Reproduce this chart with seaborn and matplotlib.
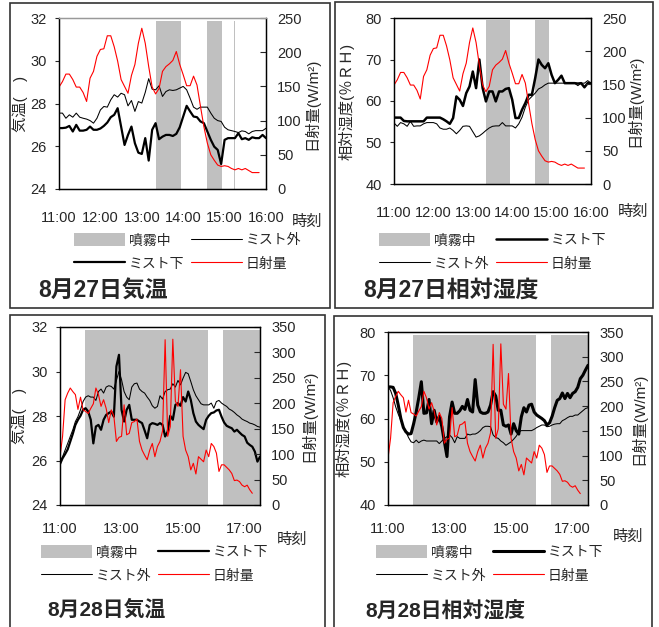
import numpy as np
import pandas as pd
import seaborn as sns
import matplotlib.pyplot as plt
from matplotlib.patches import Patch, Rectangle
from matplotlib.lines import Line2D

# readings every 5 minutes starting 11:00
# 8/27
temp27_under = [26.85, 26.85, 26.87, 26.95, 26.69, 27.0, 26.73, 26.73, 26.77, 26.92,
                26.77, 26.77, 26.83, 26.95, 27.11, 27.36, 27.47, 27.78, 26.92, 26.06,
                26.53, 26.92, 26.14, 25.70, 25.64, 26.38, 25.33, 26.77, 27.08, 26.33,
                26.45, 26.53, 26.53, 26.48, 26.58, 26.89, 27.39, 27.89, 27.63, 27.39,
                27.36, 27.16, 27.08, 26.69, 26.30, 25.98, 25.83, 25.17, 26.30, 26.38,
                26.38, 26.38, 26.61, 26.33, 26.38, 26.30, 26.42, 26.38, 26.38, 26.53,
                26.38]
temp27_out = [27.55, 27.55, 27.31, 27.47, 27.36, 27.55, 27.36, 27.31, 27.27, 27.2,
              27.08, 27.31, 27.70, 27.86, 27.83, 28.17, 28.41, 28.30, 28.48, 28.41,
              27.89, 28.14, 27.63, 28.09, 28.02, 28.52, 29.16, 28.67, 28.64, 28.83,
              28.33, 28.56, 28.64, 28.61, 28.64, 28.72, 28.80, 28.64, 28.25, 27.83,
              27.73, 27.83, 27.83, 27.83, 27.55, 27.31, 27.20, 27.16, 26.89, 26.77,
              26.73, 26.69, 26.64, 26.72, 26.69, 26.58, 26.69, 26.73, 26.73, 26.73,
              26.84]
rh27_under = [56.0, 56.0, 56.0, 55.2, 55.1, 55.1, 55.1, 55.1, 55.1, 55.1,
              56.0, 56.0, 56.0, 56.0, 56.0, 55.6, 55.1, 54.5, 55.9, 61.1,
              60.3, 58.8, 61.9, 63.5, 67.1, 63.1, 70.0, 63.1, 59.9, 62.3,
              62.3, 59.9, 62.3, 62.3, 62.9, 63.1, 60.3, 55.9, 55.9, 57.9,
              59.5, 61.5, 61.5, 65.5, 70.0, 68.7, 67.9, 69.1, 66.3, 64.3,
              65.1, 66.1, 64.3, 64.3, 64.3, 64.3, 64.2, 64.3, 63.3, 64.3,
              64.3]
rh27_out = [54.7, 53.9, 54.8, 54.5, 53.9, 55.1, 53.9, 54.0, 54.0, 54.5,
            54.8, 54.8, 54.8, 54.5, 53.5, 53.2, 53.2, 53.5, 52.9, 52.1,
            52.9, 53.9, 54.0, 53.9, 52.6, 51.3, 51.6, 52.2, 52.9, 53.5,
            53.9, 54.0, 54.0, 54.8, 54.0, 54.0, 54.0, 53.5, 54.5, 56.1,
            58.5, 60.3, 61.1, 61.9, 62.9, 63.3, 63.9, 64.3, 64.3, 64.3,
            64.3, 64.3, 64.3, 64.3, 64.3, 64.3, 63.7, 64.3, 64.3, 64.9,
            64.3]
solar27 = [149, 157, 168, 168, 160, 149, 149, 141, 128, 162,
           172, 194, 204, 205, 224, 224, 208, 187, 160, 150,
           140, 166, 182, 213, 235, 213, 179, 149, 139, 147,
           172, 179, 183, 188, 201, 182, 167, 151, 151, 165,
           152, 121, 91, 67, 50, 42, 35, 33, 34, 33,
           30, 28, 30, 28, 30, 27, 24, 24, 24]
spray27 = [("13:20", "13:57"), ("14:34", "14:56"), ("15:14", "15:15")]

# 8/28
temp28_under = [25.84, 26.10, 26.29, 26.50, 26.85, 27.20, 27.60, 27.83, 28.01, 28.28,
                28.35, 28.20, 27.83, 26.77, 27.53, 27.60, 27.38, 27.83, 28.05, 28.13,
                28.20, 27.97, 30.23, 30.75, 28.28, 27.75, 28.28, 28.50, 27.83, 27.83,
                27.83, 27.75, 27.68, 27.35, 27.00, 27.60, 27.68, 27.65, 27.60, 27.68,
                27.60, 27.08, 27.30, 28.01, 27.83, 28.50, 28.58, 28.46, 28.85, 28.65,
                29.10, 28.73, 28.13, 27.75, 27.60, 27.50, 27.41, 27.83, 28.01, 28.13,
                28.16, 28.25, 28.28, 27.97, 27.71, 27.56, 27.50, 27.45, 27.30, 27.38,
                27.26, 27.15, 27.08, 26.80, 26.70, 26.62, 26.40, 25.95, 26.17]
temp28_out = [25.95, 26.17, 26.47, 26.77, 27.08, 27.38, 27.75, 27.97, 28.28, 28.65,
              28.85, 28.91, 28.85, 28.85, 28.70, 29.10, 29.21, 29.03, 29.30, 29.36,
              29.33, 29.21, 29.60, 30.00, 29.63, 29.10, 28.85, 28.73, 29.30, 29.45,
              29.48, 29.21, 29.10, 29.03, 28.85, 28.70, 28.46, 28.35, 28.43, 28.91,
              28.76, 29.10, 29.18, 29.21, 29.45, 29.30, 29.60, 29.40, 29.70, 29.96,
              29.90, 29.55, 29.18, 28.91, 28.73, 28.55, 28.50, 28.50, 28.50, 28.58,
              28.35, 28.65, 28.70, 28.58, 28.50, 28.43, 28.31, 28.25, 28.16, 28.05,
              27.97, 27.86, 27.80, 27.75, 27.68, 27.65, 27.60, 27.53, 27.50]
rh28_under = [67.3, 67.3, 67.2, 65.8, 63.1, 60.0, 57.9, 56.9, 56.4, 56.5,
              58.8, 61.5, 64.8, 68.5, 61.2, 61.3, 64.4, 58.8, 61.9, 59.2,
              60.5, 58.1, 54.6, 51.2, 60.4, 63.8, 61.2, 61.2, 61.8, 62.8,
              62.1, 64.4, 61.9, 61.5, 69.0, 63.1, 61.5, 61.2, 61.2, 61.5,
              63.1, 66.2, 65.2, 61.9, 61.9, 58.5, 58.2, 58.5, 56.4, 58.8,
              57.2, 56.4, 60.4, 62.5, 61.5, 63.1, 63.3, 61.5, 60.8, 60.4,
              60.0, 59.5, 58.5, 59.0, 60.5, 62.5, 64.2, 64.6, 65.9, 64.6,
              65.8, 64.8, 65.8, 66.2, 67.2, 69.2, 70.0, 71.2, 72.3]
rh28_out = [67.3, 66.5, 64.8, 62.7, 61.0, 59.6, 58.2, 56.9, 55.6, 54.6,
            54.4, 55.0, 54.4, 54.8, 55.0, 54.8, 54.8, 54.8, 54.8, 54.8,
            54.2, 54.8, 55.4, 55.8, 56.2, 55.6, 54.4, 55.8, 55.4, 55.4,
            55.4, 56.4, 56.2, 56.4, 56.4, 56.7, 57.2, 57.9, 58.2, 58.2,
            58.1, 56.2, 55.6, 55.4, 54.8, 54.4, 53.8, 54.2, 54.6, 55.2,
            55.9, 56.9, 57.2, 57.2, 57.2, 57.2, 57.2, 57.5, 57.9, 58.2,
            58.5, 58.5, 58.1, 58.2, 58.5, 58.7, 58.8, 58.8, 59.5, 59.8,
            60.2, 60.5, 60.5, 60.8, 60.8, 61.3, 61.8, 62.3, 62.5]
solar28 = [95, 135, 207, 220, 230, 223, 217, 188, 212, 187,
           184, 180, 190, 199, 230, 217, 194, 207, 190, 162,
           187, 175, 125, 133, 135, 197, 138, 141, 162, 164,
           169, 125, 108, 98, 89, 108, 121, 95, 115, 125,
           146, 325, 135, 154, 326, 204, 194, 266, 135, 108,
           95, 69, 82, 61, 95, 90, 85, 108, 95, 121,
           115, 102, 66, 79, 79, 74, 69, 62, 48, 49,
           46, 39, 36, 39, 30, 23]
spray28 = [("11:48", "15:48"), ("16:17", "17:30")]

sns.set_style("white")
plt.rcParams["font.family"] = ["Liberation Sans", "Noto Sans CJK JP"]

W, H = 659, 627
fig = plt.figure(figsize=(W / 100, H / 100), dpi=100)
GRAY = "#c0c0c0"


def hours(hhmm):
    h, m = hhmm.split(":")
    return int(h) + int(m) / 60


def series(values):
    return pd.DataFrame({"t": 11 + np.arange(len(values)) * 5 / 60, "v": values})


def fpos(x, y):
    return x / W, 1 - y / H


def panel(box, under, out, solar, spray, ylim, yticks, ylabel, rlim, rticks,
          xmax, xticks, xpad, lab_x, rlab_x, lw_under, order, leg_xy,
          title, title_xy, title_size, clock_xy, top_color="black"):
    l, t, r, b = box
    ax = fig.add_axes([l / W, 1 - b / H, (r - l) / W, (b - t) / H])
    for s, e in spray:
        ax.axvspan(hours(s), hours(e), ymax=0.985, color=GRAY, lw=0)
    sns.lineplot(data=series(out), x="t", y="v", ax=ax, color="black", lw=0.75)
    sns.lineplot(data=series(under), x="t", y="v", ax=ax, color="black", lw=lw_under)
    ax2 = ax.twinx()
    sns.lineplot(data=series(solar), x="t", y="v", ax=ax2, color="red", lw=0.8)

    ax.set_xlim(11, xmax)
    ax.set_ylim(*ylim)
    ax.set_yticks(yticks)
    ax2.set_ylim(*rlim)
    ax2.set_yticks(rticks)
    ax.set_xticks(xticks)
    ax.set_xticklabels([f"{h}:00" for h in xticks])
    ax.set_xlabel("")
    ax.set_ylabel(ylabel, fontsize=11)
    ax2.set_ylabel("日射量(W/m²)", fontsize=11)
    ax.yaxis.set_label_coords(lab_x, 0.5)
    ax2.yaxis.set_label_coords(rlab_x, 0.5)

    ax.tick_params(axis="x", length=0, pad=xpad, labelsize=10.5)
    ax.tick_params(axis="y", left=True, direction="out", length=3, pad=6, labelsize=10.5)
    ax2.tick_params(axis="y", right=True, direction="in", length=4, pad=8, labelsize=10.5)
    for a in (ax, ax2):
        for sp in a.spines.values():
            sp.set_color("black")
            sp.set_linewidth(0.9)
    ax2.spines["top"].set_color(top_color)
    ax.spines["top"].set_color(top_color)

    handles = {
        "噴霧中": Patch(facecolor=GRAY, edgecolor="none"),
        "ミスト下": Line2D([], [], color="black", lw=lw_under),
        "ミスト外": Line2D([], [], color="black", lw=0.75),
        "日射量": Line2D([], [], color="red", lw=0.8),
    }
    fig.legend([handles[k] for k in order], order, loc="upper left",
               bbox_to_anchor=fpos(*leg_xy), ncol=2, frameon=False, fontsize=10,
               handlelength=3.7, handleheight=1.1, handletextpad=0.25,
               columnspacing=0.45, labelspacing=0.65, borderaxespad=0, borderpad=0)
    fig.text(*fpos(*title_xy), title, fontsize=title_size, fontweight="bold",
             ha="left", va="center")
    fig.text(*fpos(*clock_xy), "時刻", fontsize=11, ha="center", va="center")


# panel frames
for x0, y0, x1, y1 in [(10, 3, 330, 308), (335, 2, 653, 308),
                       (10, 315, 325, 640), (334, 316, 652, 640)]:
    fig.patches.append(Rectangle(fpos(x0, y1), (x1 - x0) / W, (y1 - y0) / H,
                                 transform=fig.transFigure, fill=False,
                                 edgecolor="#333333", lw=1.2))

panel((59, 18, 266, 189), temp27_under, temp27_out, solar27, spray27,
      (24, 32), [24, 26, 28, 30, 32], "気温(　)", (0, 250), [0, 50, 100, 150, 200, 250],
      16, [11, 12, 13, 14, 15, 16], 16, -0.15, 1.18, 1.6,
      ["噴霧中", "ミスト下", "ミスト外", "日射量"], (74, 233),
      "8月27日気温", (38, 291), 16.5, (307, 222), top_color="#999999")

panel((394, 18, 591, 184), rh27_under, rh27_out, solar27, spray27,
      (40, 80), [40, 50, 60, 70, 80], "相対湿度(％ＲＨ)", (0, 250), [0, 50, 100, 150, 200, 250],
      16, [11, 12, 13, 14, 15, 16], 16, -0.2, 1.18, 1.8,
      ["噴霧中", "ミスト外", "ミスト下", "日射量"], (379, 233),
      "8月27日相対湿度", (363, 290), 16.5, (633, 212))

panel((60, 327, 260, 505), temp28_under, temp28_out, solar28, spray28,
      (24, 32), [24, 26, 28, 30, 32], "気温(　)", (0, 350), [0, 50, 100, 150, 200, 250, 300, 350],
      17.5, [11, 13, 15, 17], 12, -0.165, 1.2, 1.6,
      ["噴霧中", "ミスト外", "ミスト下", "日射量"], (41, 545),
      "8月28日気温", (47, 610), 15, (292, 540))

panel((388, 332, 588, 505), rh28_under, rh28_out, solar28, spray28,
      (40, 80), [40, 50, 60, 70, 80], "相対湿度(％ＲＨ)", (0, 350), [0, 50, 100, 150, 200, 250, 300, 350],
      17.5, [11, 13, 15, 17], 12, -0.18, 1.21, 2.2,
      ["噴霧中", "ミスト外", "ミスト下", "日射量"], (376, 545),
      "8月28日相対湿度", (365, 612), 15, (628, 537))

fig.savefig("out.png", dpi=100)
